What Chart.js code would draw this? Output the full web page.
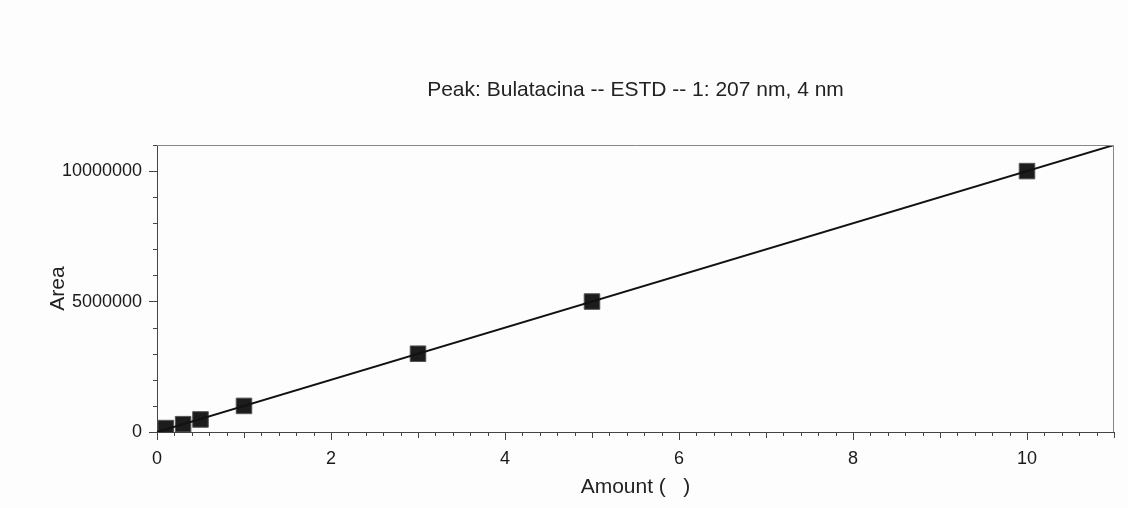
<!DOCTYPE html>
<html>
<head>
<meta charset="utf-8">
<script src="https://cdn.jsdelivr.net/npm/chart.js@4/dist/chart.umd.min.js"></script>
<style>
  html, body { margin: 0; padding: 0; background: #fdfdfd; }
  #wrap { width: 1128px; height: 508px; }
</style>
</head>
<body>
<div id="wrap"><canvas id="c" width="1128" height="508"></canvas></div>
<script>
// calibration standards (amount, area)
var amounts = [0.1, 0.3, 0.5, 1, 3, 5, 10];
var areas   = [150000, 300000, 480000, 1000000, 3000000, 5000000, 10000000];
// fitted line end points
var fitX = [0, 11];
var fitY = [0, 11000000];

var xTicks = [0, 2, 4, 6, 8, 10];
var yTicks = [0, 5000000, 10000000];

var titleText = 'Peak: Bulatacina -- ESTD -- 1: 207 nm, 4 nm';
var FONT = 'Liberation Sans';

// minor ticks, frame, and a title centred over the plot area
var extras = {
  id: 'extras',
  afterDraw: function (chart) {
    var ctx = chart.ctx, a = chart.chartArea,
        xs = chart.scales.x, ys = chart.scales.y;
    ctx.save();
    ctx.strokeStyle = '#444';
    ctx.lineWidth = 1;
    ctx.beginPath();
    for (var i = 0; i <= 55; i++) {
      if (i % 10 === 0) continue;
      var px = Math.round(xs.getPixelForValue(i * 0.2)) + 0.5;
      var len = (i % 5 === 0) ? 6 : 4;
      ctx.moveTo(px, a.bottom);
      ctx.lineTo(px, a.bottom + len);
    }
    for (var j = 1; j <= 11; j++) {
      if (j % 5 === 0) continue;
      var py = Math.round(ys.getPixelForValue(j * 1000000)) + 0.5;
      ctx.moveTo(a.left, py);
      ctx.lineTo(a.left - 4, py);
    }
    ctx.stroke();

    ctx.strokeStyle = '#888';
    ctx.beginPath();
    ctx.moveTo(a.left, a.top + 0.5);
    ctx.lineTo(a.right, a.top + 0.5);
    ctx.moveTo(a.right - 0.5, a.top);
    ctx.lineTo(a.right - 0.5, a.bottom);
    ctx.stroke();

    ctx.fillStyle = '#222';
    ctx.font = '21px "' + FONT + '"';
    ctx.textAlign = 'center';
    ctx.textBaseline = 'middle';
    ctx.fillText(titleText, (a.left + a.right) / 2, 90);
    ctx.restore();
  }
};

new Chart(document.getElementById('c'), {
  type: 'scatter',
  data: {
    datasets: [{
      label: 'fit',
      data: fitX.map(function (x, i) { return { x: x, y: fitY[i] }; }),
      showLine: true,
      borderColor: '#111',
      borderWidth: 2,
      pointRadius: 0
    }, {
      label: 'standards',
      data: amounts.map(function (x, i) { return { x: x, y: areas[i] }; }),
      pointStyle: 'rect',
      pointRadius: 11,
      backgroundColor: '#1c1c1c',
      borderColor: '#555',
      borderWidth: 1
    }]
  },
  options: {
    responsive: false,
    animation: false,
    events: [],
    layout: { padding: { left: 44, right: 14, top: 145, bottom: 0 } },
    plugins: {
      legend: { display: false },
      tooltip: { enabled: false },
      title: { display: false }
    },
    scales: {
      x: {
        type: 'linear',
        min: 0,
        max: 11,
        afterBuildTicks: function (s) { s.ticks = xTicks.map(function (v) { return { value: v }; }); },
        afterFit: function (s) { s.height = 76; },
        grid: { drawOnChartArea: false, color: '#444', tickLength: 8, tickColor: '#444' },
        border: { color: '#444', width: 1 },
        ticks: { color: '#1a1a1a', font: { family: FONT, size: 18 }, padding: 8, maxRotation: 0 },
        title: { display: true, text: 'Amount (   )', color: '#222', font: { family: FONT, size: 21 }, padding: { top: 4, bottom: 8 } }
      },
      y: {
        type: 'linear',
        min: 0,
        max: 11000000,
        afterBuildTicks: function (s) { s.ticks = yTicks.map(function (v) { return { value: v }; }); },
        afterFit: function (s) { s.width = 113; },
        grid: { drawOnChartArea: false, color: '#444', tickLength: 8, tickColor: '#444' },
        border: { color: '#444', width: 1 },
        ticks: { color: '#1a1a1a', font: { family: FONT, size: 18 }, padding: 7,
                 callback: function (v) { return String(v); } },
        title: { display: true, text: 'Area', color: '#222', font: { family: FONT, size: 21 }, padding: { top: 2, bottom: 4 } }
      }
    }
  },
  plugins: [extras]
});
</script>
</body>
</html>
